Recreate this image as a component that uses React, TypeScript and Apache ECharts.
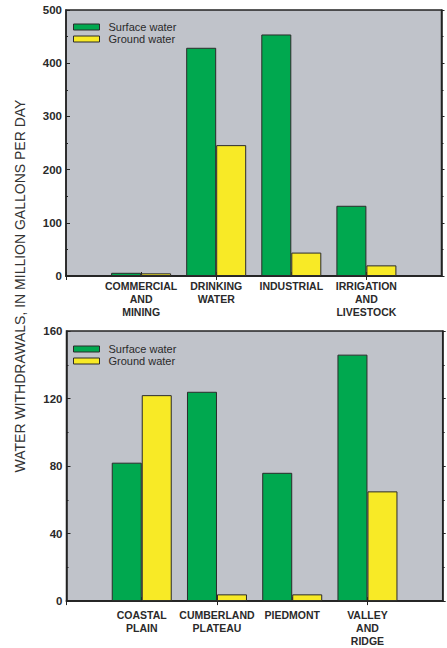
import React, { useEffect, useRef } from "react";
import * as echarts from "echarts";

const topCategories = ["COMMERCIAL\nAND\nMINING", "DRINKING\nWATER", "INDUSTRIAL", "IRRIGATION\nAND\nLIVESTOCK"];
const topSurface = [6, 429, 454, 132];
const topGround = [5, 246, 44, 20];

const bottomCategories = ["COASTAL\nPLAIN", "CUMBERLAND\nPLATEAU", "PIEDMONT", "VALLEY\nAND\nRIDGE"];
const bottomSurface = [82, 124, 76, 146];
const bottomGround = [122, 4, 4, 65];

const seriesNames = ["Surface water", "Ground water"];
const yTitle = "WATER WITHDRAWALS, IN MILLION GALLONS PER DAY";

const FONT = "'Liberation Sans', Arial, Helvetica, sans-serif";
const GREEN = "#00a84f";
const YELLOW = "#f8ea26";
const BG = "#c0c3ca";
const DARK = "#232323";

const pad = (arr: any[]) => ["-", ...arr, "-"];
const padCat = (arr: string[]) => ["", ...arr, ""];

export default function App() {
  const ref = useRef<HTMLDivElement>(null);
  useEffect(() => {
    if (!ref.current) return;
    const chart = echarts.init(ref.current, null, { renderer: "svg" });

    const xBottom = (grid: number, cats: string[], margin: number) => ({
      type: "category",
      gridIndex: grid,
      data: padCat(cats),
      boundaryGap: false,
      axisLine: { show: true, lineStyle: { color: DARK, width: 1.5 } },
      axisTick: { show: true, inside: true, length: 4, lineStyle: { color: DARK } },
      axisLabel: {
        interval: 0,
        margin,
        fontFamily: FONT,
        fontWeight: "bold",
        fontSize: 10.5,
        lineHeight: 13.3,
        color: "#2a2a2a",
        align: "center",
      },
      splitLine: { show: false },
    });
    const xTop = (grid: number, cats: string[]) => ({
      type: "category",
      gridIndex: grid,
      position: "top",
      data: padCat(cats),
      boundaryGap: false,
      axisLine: { show: true, lineStyle: { color: DARK, width: 1.5 } },
      axisTick: { show: true, inside: true, length: 4, lineStyle: { color: DARK } },
      axisLabel: { show: false },
      splitLine: { show: false },
    });
    const yLeft = (grid: number, max: number, interval: number) => ({
      type: "value",
      gridIndex: grid,
      min: 0,
      max,
      interval,
      axisLine: { show: true, lineStyle: { color: DARK, width: 1.5 } },
      axisTick: { show: true, inside: true, length: 4, lineStyle: { color: DARK } },
      minorTick: { show: true, splitNumber: 2, length: 2, lineStyle: { color: DARK } },
      splitLine: { show: false },
      minorSplitLine: { show: false },
      axisLabel: {
        margin: 4,
        fontFamily: FONT,
        fontWeight: "bold",
        fontSize: 11.5,
        color: "#2a2a2a",
      },
    });
    const yRight = (grid: number, max: number, interval: number) => ({
      type: "value",
      gridIndex: grid,
      position: "right",
      min: 0,
      max,
      interval,
      axisLine: { show: true, lineStyle: { color: DARK, width: 1.5 } },
      axisTick: { show: true, inside: false, length: 3, lineStyle: { color: DARK } },
      minorTick: { show: true, splitNumber: 2, length: 2, lineStyle: { color: DARK } },
      splitLine: { show: false },
      minorSplitLine: { show: false },
      axisLabel: { show: false },
    });

    const barSeries = (name: string, data: number[], axisIdx: number, color: string) => ({
      type: "bar",
      name,
      xAxisIndex: axisIdx,
      yAxisIndex: axisIdx,
      data: pad(data),
      barWidth: 30,
      barGap: "0%",
      itemStyle: { color, borderColor: "#2b2b2b", borderWidth: 1 },
    });

    const legend = (top: number) => ({
      orient: "vertical",
      left: 73,
      top,
      padding: 0,
      itemGap: 0,
      itemWidth: 26,
      itemHeight: 6,
      icon: "rect",
      data: seriesNames,
      itemStyle: { borderColor: "#2b2b2b", borderWidth: 1 },
      textStyle: {
        fontFamily: FONT,
        fontSize: 11,
        lineHeight: 12,
        color: "#2a2a2a",
        padding: [0, 0, 0, 4],
      },
      selectedMode: false,
    });

    chart.setOption({
      animation: false,
      grid: [
        {
          left: 66,
          right: 5.5,
          top: 10,
          height: 266,
          show: true,
          backgroundColor: BG,
          borderColor: DARK,
          borderWidth: 1.5,
        },
        {
          left: 66.5,
          right: 4.3,
          top: 331,
          height: 274.5,
          show: true,
          backgroundColor: BG,
          borderColor: DARK,
          borderWidth: 1.5,
        },
      ],
      legend: [legend(21), legend(343)],
      xAxis: [
        xBottom(0, topCategories, 3),
        xTop(0, topCategories),
        xBottom(1, bottomCategories, 7),
        xTop(1, bottomCategories),
      ],
      yAxis: [yLeft(0, 500, 100), yRight(0, 500, 100), yLeft(1, 160, 40), yRight(1, 160, 40)],
      series: [
        barSeries(seriesNames[0], topSurface, 0, GREEN),
        barSeries(seriesNames[1], topGround, 0, YELLOW),
        { ...barSeries(seriesNames[0], bottomSurface, 2, GREEN), yAxisIndex: 2 },
        { ...barSeries(seriesNames[1], bottomGround, 2, YELLOW), yAxisIndex: 2 },
      ],
      graphic: [
        {
          type: "text",
          x: 20,
          y: 286,
          rotation: Math.PI / 2,
          style: {
            text: yTitle,
            fontFamily: FONT,
            fontSize: 14,
            fill: "#333",
            textAlign: "center",
            textVerticalAlign: "middle",
          },
        },
      ],
    });
    return () => chart.dispose();
  }, []);
  return (
    <div
      ref={ref}
      style={{ position: "absolute", left: 0, top: 0, width: 447, height: 648 }}
    />
  );
}
